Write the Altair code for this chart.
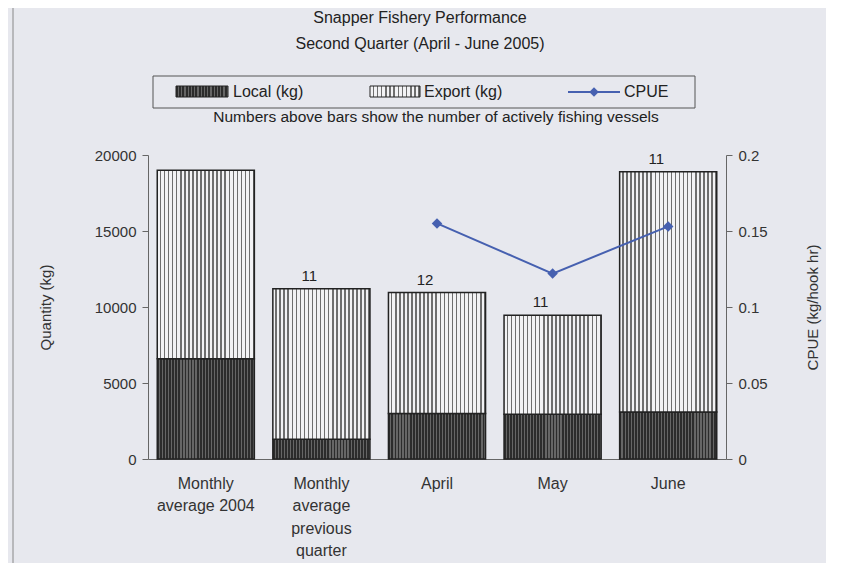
import altair as alt
import pandas as pd

# ---------------- data ----------------
categories = ["Monthly average 2004", "Monthly average previous quarter", "April", "May", "June"]
axis_lines = [["Monthly", "average 2004"], ["Monthly", "average", "previous", "quarter"], ["April"], ["May"], ["June"]]
local_kg = [6600, 1300, 3000, 2950, 3100]
export_kg = [12400, 9900, 7950, 6500, 15800]
cpue_months = ["April", "May", "June"]
cpue_values = [0.155, 0.122, 0.153]
vessels = ["", "11", "12", "11", "11"]
title_lines = ["Snapper Fishery Performance", "Second Quarter (April - June 2005)"]

df = pd.DataFrame({
    "category": categories,
    "local": local_kg,
    "export": export_kg,
    "vessels": vessels,
})
df["total"] = df["local"] + df["export"]
df_cpue = pd.DataFrame({"category": cpue_months, "cpue": cpue_values})
df_txt = df[df["vessels"] != ""]

# ---------------- style ----------------
FONT = "Liberation Sans"
NARROW = "Liberation Sans Narrow, Liberation Sans"
BG = "#e7e8ee"
BLUE = "#4660b0"
W, H = 578, 304


def stripes(c1, c2, n, frac):
    stops = []
    for i in range(n):
        a = i / n
        b = (i + frac) / n
        c = (i + 1) / n
        stops += [alt.GradientStop(offset=a, color=c1), alt.GradientStop(offset=b, color=c1),
                  alt.GradientStop(offset=b, color=c2), alt.GradientStop(offset=c, color=c2)]
    return stops


export_fill = alt.Gradient(gradient="linear", x1=0, x2=1, y1=0, y2=0,
                           stops=stripes("#f2f2f4", "#6e6e6e", 24, 0.62))
local_fill = alt.Gradient(gradient="linear", x1=0, x2=1, y1=0, y2=0,
                          stops=stripes("#2c2c2c", "#666666", 32, 0.6))
export_fill_leg = alt.Gradient(gradient="linear", x1=0, x2=1, y1=0, y2=0,
                               stops=stripes("#f2f2f4", "#6e6e6e", 12, 0.62))
local_fill_leg = alt.Gradient(gradient="linear", x1=0, x2=1, y1=0, y2=0,
                              stops=stripes("#2c2c2c", "#666666", 16, 0.6))

# label expression for multi-line x labels
expr = "datum.label"
for cat, lines in zip(reversed(categories), reversed(axis_lines)):
    arr = "[" + ",".join("'" + s + "'" for s in lines) + "]"
    expr = f"datum.label == '{cat}' ? {arr} : ({expr})"

x_enc = alt.X("category:N", sort=categories, title=None,
              scale=alt.Scale(paddingInner=0.16, paddingOuter=0.08),
              axis=alt.Axis(labelExpr=expr, labelAngle=0, labelFont=FONT, labelFontSize=16,
                            labelColor="#333", labelLineHeight=22.5, labelPadding=16,
                            labelBaseline="top", domainColor="#666", ticks=False))

y_left = alt.Scale(domain=[0, 20000])
y_axis = alt.Axis(values=[0, 5000, 10000, 15000, 20000], format="d", grid=False,
                  labelFont=FONT, labelFontSize=15, labelColor="#333", labelPadding=6,
                  domainColor="#666", tickColor="#666", tickSize=6,
                  title="Quantity (kg)", titleFont=NARROW, titleFontSize=15,
                  titleFontWeight="normal", titleColor="#333",
                  titleX=-103, titleY=H / 2, titleAngle=-90, titleBaseline="middle",
                  titleAlign="center")

base = alt.Chart(df)

local_bar = base.mark_bar(fill=local_fill, stroke="#222", strokeWidth=1.5).encode(
    x=x_enc,
    y=alt.Y("local:Q", scale=y_left, axis=y_axis),
)
export_bar = base.mark_bar(fill=export_fill, stroke="#222", strokeWidth=1.5).encode(
    x=x_enc,
    y=alt.Y("local:Q", scale=y_left),
    y2="total:Q",
)
vessel_txt = alt.Chart(df_txt).mark_text(font=FONT, fontSize=15, color="#222",
                                         baseline="bottom", dy=-5, dx=-12).encode(
    x=alt.X("category:N", sort=categories),
    y=alt.Y("total:Q", scale=y_left),
    text="vessels:N",
)

one = pd.DataFrame({"k": [0]})

# chart titles
title1 = alt.Chart(one).mark_text(text=title_lines[0], font=FONT, fontSize=16, color="#222",
                                  align="center", baseline="middle").encode(
    x=alt.value(272), y=alt.value(-137))
title2 = alt.Chart(one).mark_text(text=title_lines[1], font=FONT, fontSize=16, color="#222",
                                  align="center", baseline="middle").encode(
    x=alt.value(272), y=alt.value(-111))

# chart border box
border = alt.Chart(one).mark_rect(fill=None, stroke="#888", strokeWidth=1).encode(
    x=alt.value(-135), x2=alt.value(687), y=alt.value(-151), y2=alt.value(411))

# legend box
leg_box = alt.Chart(one).mark_rect(fill=BG, stroke="#555", strokeWidth=1).encode(
    x=alt.value(5), x2=alt.value(547), y=alt.value(-79), y2=alt.value(-47))
leg_local = alt.Chart(one).mark_rect(fill=local_fill_leg, stroke="#222", strokeWidth=1).encode(
    x=alt.value(28), x2=alt.value(80), y=alt.value(-69), y2=alt.value(-58))
leg_local_t = alt.Chart(one).mark_text(text="Local (kg)", font=FONT, fontSize=16, color="#222",
                                       align="left", baseline="middle").encode(
    x=alt.value(85), y=alt.value(-63))
leg_export = alt.Chart(one).mark_rect(fill=export_fill_leg, stroke="#222", strokeWidth=1).encode(
    x=alt.value(222), x2=alt.value(272), y=alt.value(-69), y2=alt.value(-58))
leg_export_t = alt.Chart(one).mark_text(text="Export (kg)", font=FONT, fontSize=16, color="#222",
                                        align="left", baseline="middle").encode(
    x=alt.value(276), y=alt.value(-63))
leg_line = alt.Chart(one).mark_rule(color=BLUE, strokeWidth=2).encode(
    x=alt.value(420), x2=alt.value(472), y=alt.value(-63))
leg_pt = alt.Chart(one).mark_point(shape="diamond", filled=True, color=BLUE, size=90, opacity=1).encode(
    x=alt.value(446), y=alt.value(-63))
leg_cpue_t = alt.Chart(one).mark_text(text="CPUE", font=FONT, fontSize=16, color="#222",
                                      align="left", baseline="middle").encode(
    x=alt.value(476), y=alt.value(-63))
note = alt.Chart(one).mark_text(text="Numbers above bars show the number of actively fishing vessels",
                                font=FONT, fontSize=15.5, color="#222",
                                align="center", baseline="middle").encode(
    x=alt.value(288), y=alt.value(-38))

left = alt.layer(border, title1, title2, leg_box, leg_local, leg_local_t, leg_export, leg_export_t,
                 leg_line, leg_pt, leg_cpue_t, note,
                 local_bar, export_bar, vessel_txt)

y_right = alt.Scale(domain=[0, 0.2])
y_raxis = alt.Axis(orient="right", values=[0, 0.05, 0.1, 0.15, 0.2], format="~g", grid=False,
                   labelFont=FONT, labelFontSize=15, labelColor="#333", labelPadding=6,
                   domainColor="#666", tickColor="#666", tickSize=6,
                   title="CPUE (kg/hook hr)", titleFont=NARROW, titleFontSize=15,
                   titleFontWeight="normal", titleColor="#333",
                   titleX=86, titleY=H / 2, titleAngle=-90, titleBaseline="middle",
                   titleAlign="center")

cpue_line = alt.Chart(df_cpue).mark_line(color=BLUE, strokeWidth=2).encode(
    x=alt.X("category:N", sort=categories),
    y=alt.Y("cpue:Q", scale=y_right, axis=y_raxis),
)
cpue_pts = alt.Chart(df_cpue).mark_point(shape="diamond", filled=True, color=BLUE,
                                         size=110, opacity=1).encode(
    x=alt.X("category:N", sort=categories),
    y=alt.Y("cpue:Q", scale=y_right),
)
right = alt.layer(cpue_line, cpue_pts)

chart = alt.layer(left, right).resolve_scale(y="independent").properties(
    width=W, height=H,
    autosize=alt.AutoSizeParams(type="none"),
    padding={"left": 140, "top": 147, "right": 100, "bottom": 104},
    background=BG,
).configure_view(stroke=None)

chart.save("out.html", embed_options={"renderer": "svg", "actions": False})
